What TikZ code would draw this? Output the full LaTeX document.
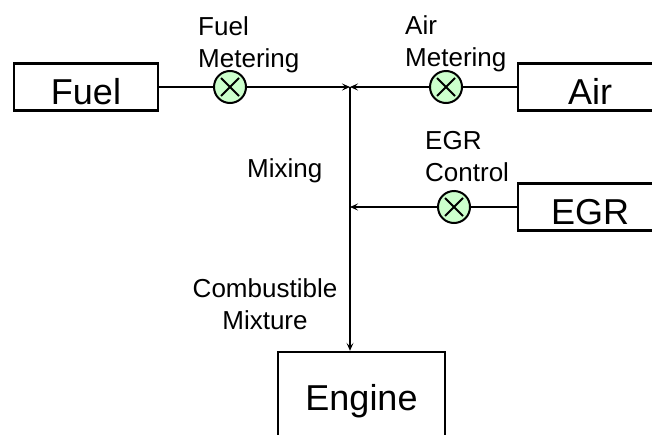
\documentclass[tikz,border=0pt]{standalone}
\usepackage{fontspec}
\setmainfont{Liberation Sans}
\usetikzlibrary{arrows.meta}

\definecolor{valvegreen}{RGB}{204,255,204}
\newcommand{\boxfont}{\fontsize{36}{40}\selectfont}
\newcommand{\labelfont}{\fontsize{26}{32}\selectfont}

\begin{document}
\begin{tikzpicture}[
    x=1pt, y=-1pt,
    box/.style={rectangle, draw, line width=2.4pt, minimum width=144pt,
                minimum height=47pt, inner sep=0pt, text height=35pt,
                text depth=0pt, font=\boxfont},
    valve/.style={circle, draw, line width=2pt, fill=valvegreen,
                  minimum size=32pt, inner sep=0pt,
                  path picture={\draw[line width=1.8pt]
                      (path picture bounding box.center) ++(-9pt,-9pt) -- ++(18pt,18pt)
                      (path picture bounding box.center) ++(-9pt,9pt) -- ++(18pt,-18pt);}},
    lbl/.style={font=\labelfont, inner sep=0pt},
    pipe/.style={line width=1.2pt},
    arr/.style={line width=1.2pt, -{Stealth[length=8pt, width=7pt, inset=3.5pt]}}
]
    \useasboundingbox (0,0) rectangle (652,434);

    % sources and engine
    \node[box] (fuel) at (86,87) {Fuel};
    \node[box] (air) at (590,87) {Air};
    \node[box] (egr) at (590,207) {EGR};
    \node[box, minimum width=167pt, minimum height=110pt, text depth=29pt]
        (engine) at (361.5,407) {Engine};

    % valves
    \node[valve] (fuelvalve) at (230,87) {};
    \node[valve] (airvalve) at (446,87) {};
    \node[valve] (egrvalve) at (454,207) {};

    \coordinate (mix) at (350,87);
    \coordinate (egrjoin) at (350,207);

    % labels
    \node[lbl, anchor=north west, align=left] (fuellbl) at (198,16) {Fuel\\Metering};
    \node[lbl, anchor=north west, align=left] (airlbl) at (405,15) {Air\\Metering};
    \node[lbl, anchor=north west, align=left] (egrlbl) at (425,131.4) {EGR\\Control};
    \node[lbl, anchor=base west] (mixlbl) at (247,177) {Mixing};
    \node[lbl, anchor=north, align=center] (mixturelbl) at (265,278) {Combustible\\Mixture};

    % flows
    \draw[pipe] (fuel) -- (fuelvalve);
    \draw[arr] (fuelvalve) -- (mix);
    \draw[pipe] (air) -- (airvalve);
    \draw[arr] (airvalve) -- (mix);
    \draw[pipe] (egr) -- (egrvalve);
    \draw[arr] (egrvalve) -- (egrjoin);
    \draw[arr] (mix) -- (mix |- engine.north);
\end{tikzpicture}
\end{document}
